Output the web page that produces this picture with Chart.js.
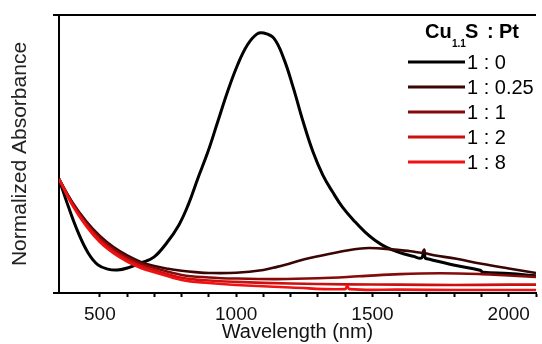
<!DOCTYPE html>
<html>
<head>
<meta charset="utf-8">
<script src="https://cdn.jsdelivr.net/npm/chart.js@4.4.1/dist/chart.umd.min.js"></script>
<style>
html,body{margin:0;padding:0;background:#fff;}
#wrap{width:542px;height:344px;position:relative;}
</style>
</head>
<body>
<div id="wrap"><canvas id="c" width="542" height="344"></canvas></div>
<script>
// ---- data (wavelength in nm, normalized absorbance) ----
const seriesLabels = ['1 : 0', '1 : 0.25', '1 : 1', '1 : 2', '1 : 8'];
const seriesColors = ['#000000', '#3a0505', '#860a0a', '#cc1010', '#f01212'];

const wl_0   = [350,385,421,457,493,529,565,601,651,698,745,790,824,860,896,932,968,1005,1041,1077,1102,1138,1174,1210,1246,1282,1318,1354,1390,1437,1473,1509,1550,1600,1650,1680,1688,1694,1700,1797,1895,1905,2000,2100];
const abs_0  = [0.41,0.309,0.216,0.144,0.101,0.086,0.083,0.09,0.108,0.129,0.18,0.245,0.317,0.414,0.507,0.615,0.723,0.820,0.892,0.932,0.935,0.917,0.845,0.737,0.615,0.507,0.424,0.363,0.309,0.255,0.219,0.19,0.165,0.145,0.132,0.126,0.152,0.125,0.123,0.101,0.082,0.075,0.07,0.062];

const wl_025  = [350,400,450,500,550,600,650,700,750,800,850,900,1000,1100,1150,1200,1270,1390,1440,1490,1570,1640,1686,1690,1695,1808,1900,2000,2100];
const abs_025 = [0.41,0.325,0.258,0.205,0.165,0.135,0.112,0.097,0.087,0.08,0.075,0.072,0.073,0.083,0.094,0.107,0.126,0.150,0.158,0.162,0.157,0.150,0.145,0.156,0.143,0.123,0.105,0.088,0.072];

const wl_1   = [350,400,450,500,550,600,650,700,800,900,1000,1150,1300,1450,1600,1750,1900,2000,2100];
const abs_1  = [0.41,0.322,0.252,0.198,0.158,0.128,0.105,0.09,0.065,0.056,0.052,0.05,0.053,0.06,0.068,0.071,0.068,0.063,0.058];

const wl_2   = [350,400,450,500,550,600,650,700,800,900,1000,1200,1400,1600,1800,2000,2100];
const abs_2  = [0.41,0.318,0.246,0.19,0.15,0.12,0.097,0.082,0.055,0.045,0.04,0.034,0.031,0.03,0.029,0.03,0.03];

const wl_8   = [350,400,450,500,550,600,650,700,800,900,1000,1200,1400,1407,1416,1600,1800,2100];
const abs_8  = [0.41,0.314,0.24,0.183,0.143,0.113,0.09,0.075,0.047,0.036,0.029,0.02,0.014,0.027,0.014,0.012,0.011,0.011];

const xTickLabels = [500, 1000, 1500, 2000];
const xMin = 350, xMax = 2100;

const wls = [wl_0, wl_025, wl_1, wl_2, wl_8];
const absv = [abs_0, abs_025, abs_1, abs_2, abs_8];

const FONT = '"Liberation Sans", Arial, Helvetica, sans-serif';

const datasets = seriesLabels.map((lab, i) => ({
  label: lab,
  data: wls[i].map((w, k) => ({x: w, y: absv[i][k]})),
  borderColor: seriesColors[i],
  backgroundColor: seriesColors[i],
  borderWidth: i === 0 ? 3 : 2.6,
  pointRadius: 0,
  fill: false,
  tension: 0.4,
  order: 5 - i
}));

const framePlugin = {
  id: 'frame',
  afterDraw(chart) {
    const ctx = chart.ctx, ca = chart.chartArea;
    ctx.save();
    ctx.strokeStyle = '#000';
    ctx.lineWidth = 2;
    ctx.beginPath();
    ctx.moveTo(ca.left - 6, ca.top);
    ctx.lineTo(ca.right, ca.top);
    ctx.moveTo(ca.left - 6, ca.bottom);
    ctx.lineTo(ca.left, ca.bottom);
    ctx.stroke();

    // legend
    ctx.fillStyle = '#000';
    ctx.textBaseline = 'alphabetic';
    ctx.font = 'bold 20px ' + FONT;
    ctx.fillText('Cu', 425, 38);
    ctx.font = 'bold 10px ' + FONT;
    ctx.fillText('1.1', 452, 47);
    ctx.font = 'bold 20px ' + FONT;
    ctx.fillText('S', 465, 38);
    ctx.fillText(':', 487, 38);
    ctx.fillText('Pt', 499, 38);

    ctx.font = '20px ' + FONT;
    ctx.textBaseline = 'middle';
    chart.data.datasets.forEach((ds, i) => {
      const y = 62 + i * 25;
      ctx.strokeStyle = ds.borderColor;
      ctx.lineWidth = 3;
      ctx.beginPath();
      ctx.moveTo(408, y);
      ctx.lineTo(465, y);
      ctx.stroke();
      ctx.fillStyle = '#000';
      ctx.fillText(ds.label, 467, y + 1);
    });
    ctx.restore();
  }
};

new Chart(document.getElementById('c'), {
  type: 'line',
  data: { datasets },
  options: {
    responsive: false,
    animation: false,
    devicePixelRatio: 1,
    layout: { padding: { top: 15, right: 0, left: 0, bottom: 0 } },
    plugins: { legend: { display: false }, tooltip: { enabled: false } },
    scales: {
      x: {
        type: 'linear',
        min: xMin, max: xMax,
        afterFit(s) { s.height = 51; },
        afterBuildTicks(s) { s.ticks = s.ticks.filter(t => t.value % 100 === 0); },
        border: { display: true, color: '#000', width: 2 },
        grid: { drawOnChartArea: false, drawTicks: true, tickLength: 4, tickWidth: 2, tickColor: '#000' },
        ticks: {
          stepSize: 100,
          autoSkip: false,
          maxRotation: 0,
          padding: 6,
          color: '#111',
          font: { family: FONT, size: 19 },
          callback: (v) => xTickLabels.includes(v) ? String(v) : ''
        },
        title: {
          display: true, text: 'Wavelength (nm)', color: '#111',
          font: { family: FONT, size: 20 }, padding: { top: 0, bottom: 0 }
        }
      },
      y: {
        min: 0, max: 1,
        afterFit(s) { s.width = 59; },
        border: { display: true, color: '#000', width: 2 },
        grid: { display: false, drawTicks: false },
        ticks: { display: false },
        title: {
          display: true, text: 'Normalized Absorbance', color: '#222',
          font: { family: FONT, size: 21 }, padding: { top: 8, bottom: 0 }
        }
      }
    }
  },
  plugins: [framePlugin]
});
</script>
</body>
</html>
